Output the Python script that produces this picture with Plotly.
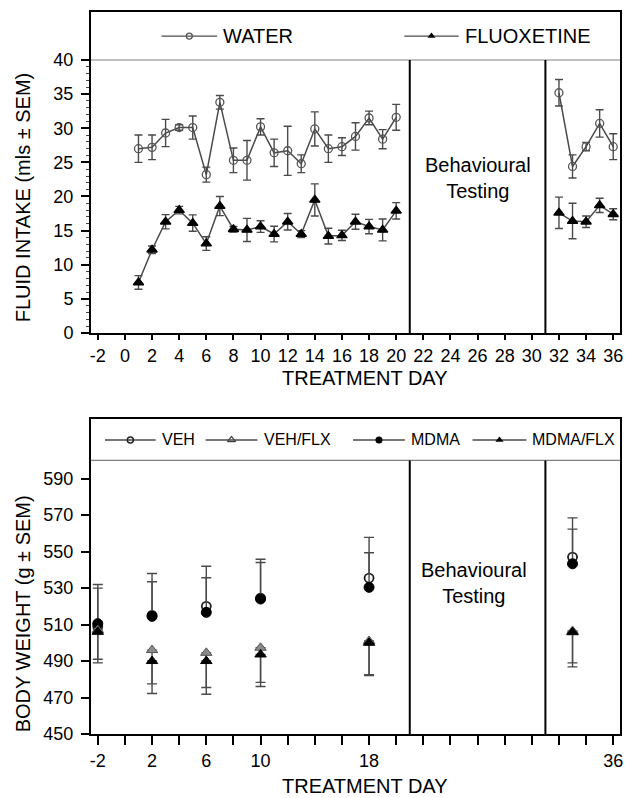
import plotly.graph_objects as go

# ---------------- data: top panel (fluid intake) ----------------
intake_days = [1, 2, 3, 4, 5, 6, 7, 8, 9, 10, 11, 12, 13, 14, 15, 16, 17, 18, 19, 20,
               32, 33, 34, 35, 36]
water_mean = [27.0, 27.2, 29.3, 30.1, 30.1, 23.2, 33.8, 25.3, 25.3, 30.2, 26.4, 26.7, 24.8,
              29.9, 27.0, 27.3, 28.8, 31.5, 28.4, 31.6, 35.2, 24.4, 27.3, 30.7, 27.3]
water_sem = [2.0, 1.8, 2.0, 0.4, 1.7, 1.1, 1.0, 1.8, 2.9, 1.2, 2.0, 3.6, 1.3,
             2.5, 2.0, 1.3, 2.0, 1.0, 1.4, 1.9, 1.95, 1.7, 0.6, 2.0, 1.9]
flx_mean = [7.4, 12.2, 16.3, 18.0, 16.1, 13.1, 18.6, 15.2, 15.1, 15.6, 14.5, 16.3, 14.5,
            19.5, 14.2, 14.3, 16.3, 15.6, 15.1, 17.9, 17.6, 16.4, 16.3, 18.7, 17.4]
flx_sem = [1.0, 0.55, 1.05, 0.55, 1.2, 1.0, 1.4, 0.4, 1.7, 0.85, 1.15, 1.2, 0.5,
           2.35, 1.15, 0.75, 1.1, 1.05, 1.6, 1.2, 2.3, 2.6, 0.85, 1.05, 0.8]

# ---------------- data: bottom panel (body weight) ----------------
bw_days = [-2, 2, 6, 10, 18, 33]
veh_mean = [509, 515, 520, 524.5, 535.5, 547]
veh_sem = [23, 23, 22, 21.3, 22.3, 21.5]
mdma_mean = [510.5, 514.5, 516.7, 524, 530.4, 543.3]
mdma_sem = [19.5, 19, 19, 20, 19, 19]
vehflx_mean = [507, 496, 494.5, 497.3, 501, 506.5]
vehflx_sem = [16, 18.5, 19, 19, 18.5, 17.5]
mdmaflx_mean = [506, 490, 490, 493.6, 500, 505.8]
mdmaflx_sem = [17, 17.8, 18.2, 17.6, 18, 19]

top_ticks = list(range(-2, 37, 2))
bottom_tick_labels = {-2: "-2", 2: "2", 6: "6", 10: "10", 18: "18", 36: "36"}

FONT = "Liberation Sans, Arial, sans-serif"
LINE_GRAY = "#4a4a4a"
ERR_GRAY = "#4a4a4a"

fig = go.Figure()


def segments(days):
    segs, cur = [], [0]
    for i in range(1, len(days)):
        if days[i] - days[i - 1] > 1:
            segs.append(cur)
            cur = []
        cur.append(i)
    segs.append(cur)
    return segs


# top panel: connecting lines + error bars + markers
for mean, sem, sym, mcol in [
    (water_mean, water_sem, "circle-open", "#555555"),
    (flx_mean, flx_sem, "triangle-up", "#000000"),
]:
    for seg in segments(intake_days):
        fig.add_trace(go.Scatter(
            x=[intake_days[i] for i in seg], y=[mean[i] for i in seg],
            mode="lines+markers",
            line=dict(color=LINE_GRAY, width=1.5),
            marker=dict(symbol=sym, size=8 if sym == "circle-open" else 9, color=mcol,
                        line=dict(width=1.3, color=mcol)),
            error_y=dict(type="data", array=[sem[i] for i in seg], color=ERR_GRAY,
                         thickness=1.4, width=4),
            xaxis="x", yaxis="y", showlegend=False,
        ))

# bottom panel: one-sided error bars
bw_series = [
    (veh_mean, veh_sem, True, dict(symbol="circle", size=9, color="white",
                                   line=dict(color="#222", width=1.8))),
    (mdma_mean, mdma_sem, True, dict(symbol="circle", size=10, color="black",
                                     line=dict(color="black", width=1))),
    (vehflx_mean, vehflx_sem, False, dict(symbol="triangle-up", size=10, color="#8a8a8a",
                                          line=dict(color="#555", width=1))),
    (mdmaflx_mean, mdmaflx_sem, False, dict(symbol="triangle-up", size=10, color="black",
                                            line=dict(color="black", width=1))),
]
for mean, sem, up, mk in bw_series:
    zeros = [0] * len(sem)
    fig.add_trace(go.Scatter(
        x=bw_days, y=mean, mode="markers", marker=mk,
        error_y=dict(type="data", symmetric=False,
                     array=sem if up else zeros, arrayminus=zeros if up else sem,
                     color=ERR_GRAY, thickness=1.4, width=5),
        xaxis="x2", yaxis="y2", showlegend=False,
    ))

# ---------------- legends (drawn inside the frame) ----------------
def legend_item(xa, ya, x0, x1, y, mk, text, fsize):
    fig.add_trace(go.Scatter(x=[x0, x1], y=[y, y], mode="lines",
                             line=dict(color=LINE_GRAY, width=1.4),
                             xaxis=xa, yaxis=ya, showlegend=False, hoverinfo="skip"))
    fig.add_trace(go.Scatter(x=[(x0 + x1) / 2], y=[y], mode="markers", marker=mk,
                             xaxis=xa, yaxis=ya, showlegend=False, hoverinfo="skip"))
    fig.add_annotation(x=x1 + 0.3, y=y, xref=xa, yref=ya, text=text, showarrow=False,
                       xanchor="left", yanchor="middle",
                       font=dict(family=FONT, size=fsize, color="black"))


legend_item("x", "y", 2.7, 6.8, 43.5,
            dict(symbol="circle-open", size=6, color="#555", line=dict(width=1.3)), "WATER", 20)
legend_item("x", "y", 20.6, 24.6, 43.5,
            dict(symbol="triangle-up", size=7, color="black"), "FLUOXETINE", 20)

legend_item("x2", "y2", -1.47, 2.27, 611.2,
            dict(symbol="circle-open", size=6, color="#222", line=dict(width=1.5)), "VEH", 16)
legend_item("x2", "y2", 5.95, 9.77, 611.2,
            dict(symbol="triangle-up-open", size=7, color="#444", line=dict(width=1.3)), "VEH/FLX", 16)
legend_item("x2", "y2", 16.82, 20.64, 611.2,
            dict(symbol="circle", size=7, color="black"), "MDMA", 16)
legend_item("x2", "y2", 25.63, 29.6, 611.2,
            dict(symbol="triangle-up", size=7, color="black"), "MDMA/FLX", 16)

# ---------------- shapes: separators ----------------
shapes = [
    dict(type="line", xref="x domain", yref="y", x0=0, x1=1, y0=40, y1=40,
         line=dict(color="#808080", width=1.2)),
    dict(type="line", xref="x", yref="y", x0=21, x1=21, y0=0, y1=40,
         line=dict(color="black", width=2)),
    dict(type="line", xref="x", yref="y", x0=31, x1=31, y0=0, y1=40,
         line=dict(color="black", width=2)),
    dict(type="line", xref="x2 domain", yref="y2", x0=0, x1=1, y0=600, y1=600,
         line=dict(color="#808080", width=1.2)),
    dict(type="line", xref="x2", yref="y2", x0=21, x1=21, y0=450, y1=600,
         line=dict(color="black", width=2)),
    dict(type="line", xref="x2", yref="y2", x0=31, x1=31, y0=450, y1=600,
         line=dict(color="black", width=2)),
]

# ---------------- annotations ----------------
fig.add_annotation(x=26, y=22.7, xref="x", yref="y", text="Behavioural<br>Testing",
                   showarrow=False, font=dict(family=FONT, size=20, color="black"))
fig.add_annotation(x=25.7, y=532.8, xref="x2", yref="y2", text="Behavioural<br>Testing",
                   showarrow=False, font=dict(family=FONT, size=20, color="black"))

title_font = dict(family=FONT, size=20, color="black")
fig.add_annotation(x=-0.128, y=0.7438, xref="paper", yref="paper", text="FLUID INTAKE (mls ± SEM)",
                   textangle=-90, showarrow=False, xanchor="center", yanchor="middle", font=title_font)
fig.add_annotation(x=-0.128, y=0.1662, xref="paper", yref="paper", text="BODY WEIGHT (g ± SEM)",
                   textangle=-90, showarrow=False, xanchor="center", yanchor="middle", font=title_font)
fig.add_annotation(x=0.518, y=0.4925, xref="paper", yref="paper", text="TREATMENT DAY",
                   showarrow=False, xanchor="center", yanchor="middle", font=title_font)
fig.add_annotation(x=0.518, y=-0.072, xref="paper", yref="paper", text="TREATMENT DAY",
                   showarrow=False, xanchor="center", yanchor="middle", font=title_font)

tick_font = dict(family=FONT, size=18, color="black")
axis_common = dict(showline=True, mirror=True, linecolor="black", linewidth=2,
                   showgrid=False, zeroline=False, ticks="outside", tickcolor="black",
                   tickwidth=1.5, tickfont=tick_font)

fig.update_layout(
    width=625, height=798,
    margin=dict(l=91, r=3, t=12, b=64),
    paper_bgcolor="white", plot_bgcolor="white",
    showlegend=False,
    shapes=shapes,
    xaxis=dict(domain=[0, 1], range=[-2.5, 36.5], anchor="y",
               tickmode="array", tickvals=top_ticks, ticktext=[str(t) for t in top_ticks],
               ticklen=5, **axis_common),
    yaxis=dict(domain=[0.5554, 1], range=[0, 47.03], anchor="x",
               tickmode="array", tickvals=list(range(0, 41, 5)),
               ticklen=8, ticklabelstandoff=4,
               minor=dict(tickvals=[v for v in range(0, 41) if v % 5 != 0],
                          ticklen=3, ticks="outside", tickcolor="#444", tickwidth=1),
               **axis_common),
    xaxis2=dict(domain=[0, 1], range=[-2.5, 36.5], anchor="y2",
                tickmode="array", tickvals=top_ticks,
                ticktext=[bottom_tick_labels.get(t, "") for t in top_ticks],
                ticklen=9, **axis_common),
    yaxis2=dict(domain=[0, 0.4363], range=[450, 622.7], anchor="x2",
                tickmode="array", tickvals=list(range(450, 591, 20)),
                ticklen=8, ticklabelstandoff=4, **axis_common),
)

fig.write_html("out.html")
